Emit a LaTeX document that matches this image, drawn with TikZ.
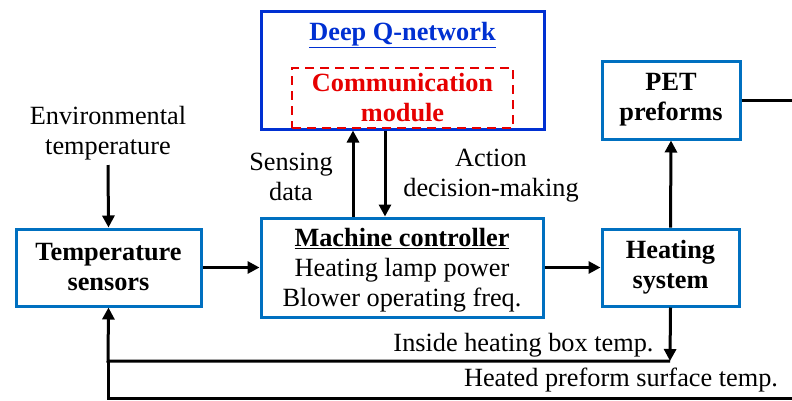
\documentclass[tikz,border=0pt]{standalone}
\usepackage{fontspec}
\setmainfont{Liberation Serif}
\usetikzlibrary{arrows.meta}
\definecolor{boxblue}{RGB}{0,112,192}
\definecolor{dqblue}{RGB}{0,48,210}
\definecolor{cmred}{RGB}{230,0,0}
\begin{document}
\begin{tikzpicture}[x=1pt,y=-1pt,
  every node/.style={font=\fontsize{26.3}{30}\selectfont, inner sep=0pt},
  blk/.style={draw=boxblue, line width=3pt, align=center},
  dqbox/.style={draw=dqblue, line width=3pt},
  cmbox/.style={draw=cmred, line width=2.8pt, dash pattern=on 9pt off 6pt},
  lbl/.style={align=center},
  arr/.style={line width=3pt, -{Triangle[length=12pt,width=12pt]}},
  ln/.style={line width=3pt}]
\useasboundingbox (0,0) rectangle (792,400);
% boxes
\node[blk, minimum width=185pt, minimum height=77pt] (ts) at (108.5,267.5) {\textbf{Temperature}\\\textbf{sensors}};
\node[blk, minimum width=282pt, minimum height=99pt] (mc) at (402,267.5) {};
\node[align=center] (mct) at (402,270) {\underline{\textbf{Machine controller}}\\Heating lamp power\\Blower operating freq.};
\node[blk, minimum width=137pt, minimum height=77pt] (hs) at (670.5,267.5) {\textbf{Heating}\\\textbf{system}};
\node[blk, minimum width=138pt, minimum height=78pt] (pet) at (671,100) {\textbf{PET}\\\textbf{preforms}};
\node[dqbox, minimum width=283pt, minimum height=118pt] (dq) at (402.5,70) {};
\node[text=dqblue] (dqt) at (402.5,35) {\underline{\textbf{Deep Q-network}}};
\node[cmbox, minimum width=221pt, minimum height=60pt, align=center, text=cmred] (cm) at (402.5,98) {\textbf{Communication}\\\textbf{module}};
% labels
\node[lbl] (env) at (108,133) {Environmental\\temperature};
\node[lbl] (sd) at (291,177) {Sensing\\data};
\node[lbl] (ad) at (491,176) {Action\\decision-making};
\node (ihb) at (523.5,345) {Inside heating box temp.};
\node (hps) at (621,380) {Heated preform surface temp.};
% coordinates
\coordinate (sx) at (353,0);
\coordinate (ax) at (385,0);
\coordinate (c1) at (670,361);
\coordinate (c2) at (108,361);
\coordinate (c3) at (792,398);
\coordinate (c4) at (108,398);
\coordinate (pe) at (792,100);
% connectors
\draw[arr] (108,165) -- (ts.north);
\draw[arr] (ts.east) -- (mc.west);
\draw[arr] (mc.east) -- (hs.west);
\draw[arr] (hs.north) -- (pet.south);
\draw[ln] (pet.east) -- (pe);
\draw[arr] (mc.north -| sx) -- (dq.south -| sx);
\draw[arr] (dq.south -| ax) -- (mc.north -| ax);
\draw[arr] (hs.south) -- (c1);
\draw[arr] (c1) -- (c2) -- (ts.south);
\draw[ln] (c3) -- (c4) -- (c2);
\end{tikzpicture}
\end{document}
